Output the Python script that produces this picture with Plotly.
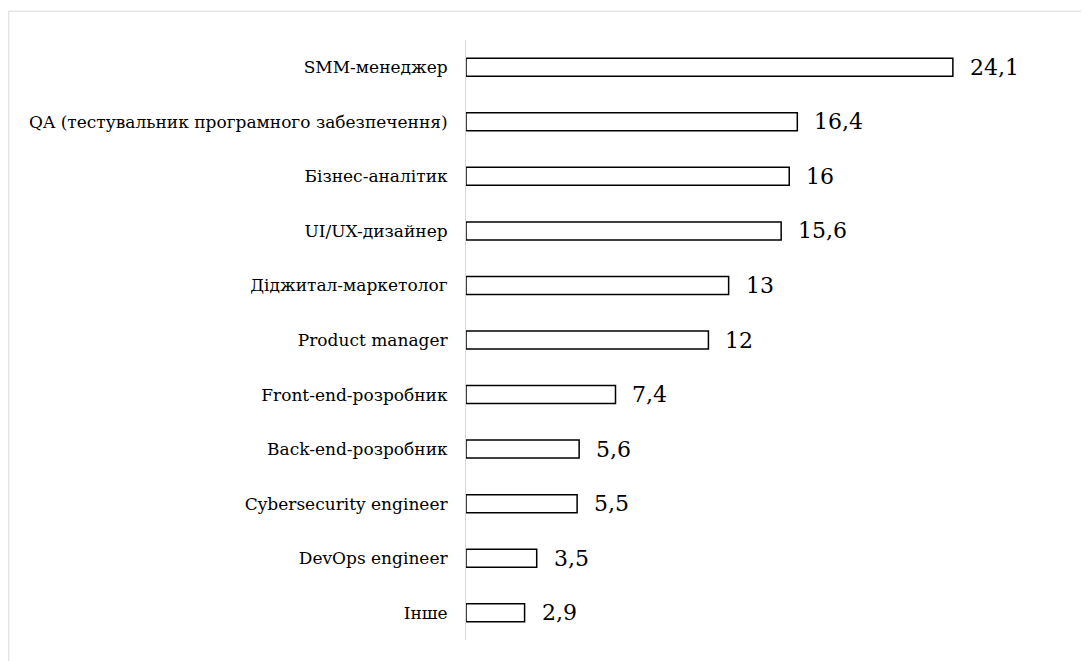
import plotly.graph_objects as go

categories = ["SMM-менеджер", "QA (тестувальник програмного забезпечення)", "Бізнес-аналітик",
              "UI/UX-дизайнер", "Діджитал-маркетолог", "Product manager", "Front-end-розробник",
              "Back-end-розробник", "Cybersecurity engineer", "DevOps engineer", "Інше"]
values = [24.1, 16.4, 16, 15.6, 13, 12, 7.4, 5.6, 5.5, 3.5, 2.9]
value_labels = ["24,1", "16,4", "16", "15,6", "13", "12", "7,4", "5,6", "5,5", "3,5", "2,9"]

FONT = "DejaVu Serif"

fig = go.Figure()
fig.add_trace(go.Bar(
    y=categories, x=values, orientation="h",
    marker=dict(color="white", line=dict(color="black", width=1.5)),
    hoverinfo="skip",
))

for c, v, t in zip(categories, values, value_labels):
    fig.add_annotation(x=v, y=c, text=t, showarrow=False, xanchor="left",
                       xshift=15, font=dict(family=FONT, size=22, color="black"))

fig.add_shape(type="rect", xref="paper", yref="paper",
              x0=-0.762, x1=1.2, y0=-0.2, y1=1.048,
              line=dict(color="#d9d9d9", width=1), layer="below")

fig.update_layout(
    width=1089, height=661,
    margin=dict(l=458, r=31, t=32, b=29),
    paper_bgcolor="white", plot_bgcolor="white",
    showlegend=False,
    bargap=0.67,
    font=dict(family=FONT, size=17, color="black"),
    xaxis=dict(range=[0, 29.7], visible=False, showgrid=False, zeroline=False),
    yaxis=dict(autorange="reversed", showline=True, linecolor="#d9d9d9", linewidth=1,
               ticks="", ticklabelstandoff=14, showgrid=False,
               tickfont=dict(family=FONT, size=17, color="black")),
)

fig.write_html("out.html")
